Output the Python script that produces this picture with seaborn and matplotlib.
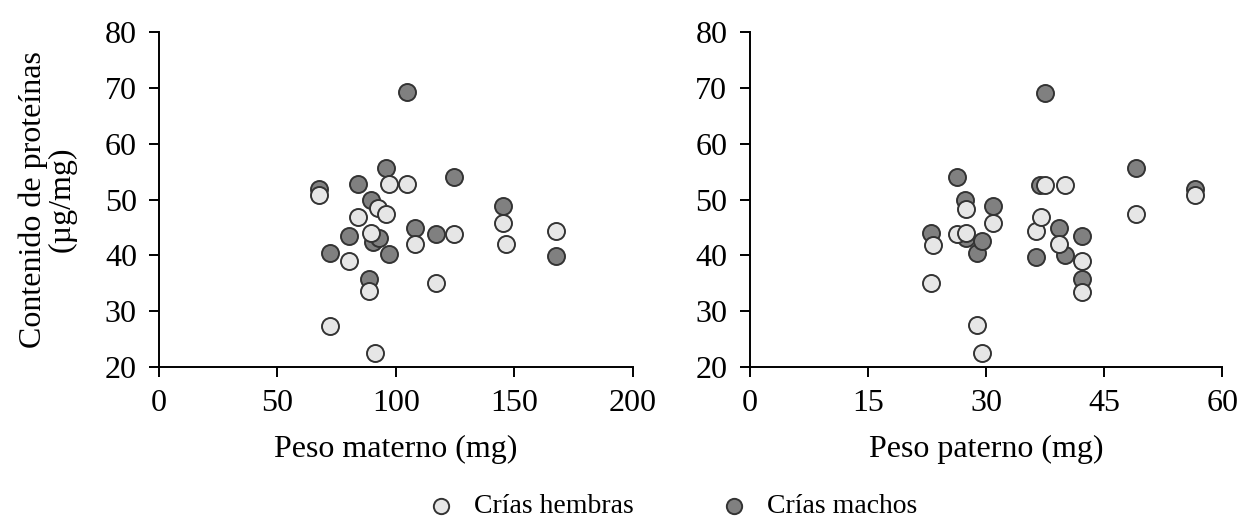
import numpy as np
import pandas as pd
import matplotlib
matplotlib.use("Agg")
import matplotlib.pyplot as plt
import seaborn as sns

# Datos
# Peso materno (mg) vs contenido de proteinas (ug/mg)
mat_hembras_x = [67.5, 72.3, 80, 84, 88.6, 89.3, 91, 92.5, 95.8, 97.2, 104.8, 108.2, 116.9, 124.5, 145.3, 146.3, 167.8]
mat_hembras_y = [50.8, 27.4, 39.0, 46.9, 33.6, 44.0, 22.6, 48.5, 47.5, 52.8, 52.8, 42.1, 35.1, 43.8, 45.8, 42.1, 44.4]
mat_machos_x = [67.5, 72.3, 80, 84, 88.6, 89.3, 90.4, 93, 95.8, 97.2, 104.5, 108.2, 116.9, 124.5, 145.3, 167.8]
mat_machos_y = [51.9, 40.45, 43.5, 52.8, 35.7, 49.9, 42.4, 43.2, 55.75, 40.2, 69.2, 45.0, 43.8, 54.1, 48.9, 39.9]

# Peso paterno (mg) vs contenido de proteinas (ug/mg)
pat_hembras_x = [23.05, 23.3, 26.3, 27.4, 27.4, 28.8, 29.5, 30.9, 36.3, 37.0, 37.5, 39.2, 40.0, 42.2, 42.2, 49.0, 56.45]
pat_hembras_y = [35.0, 41.9, 43.9, 48.4, 44.1, 27.5, 22.6, 45.9, 44.4, 46.9, 52.7, 42.0, 52.7, 39.0, 33.5, 47.4, 50.75]
pat_machos_x = [23.05, 26.3, 27.3, 27.4, 28.8, 29.5, 30.9, 36.3, 36.8, 37.5, 39.2, 40.0, 42.2, 42.2, 49.0, 56.45]
pat_machos_y = [43.95, 54.0, 49.9, 43.2, 40.4, 42.6, 48.8, 39.8, 52.7, 69.1, 44.9, 40.0, 43.5, 35.7, 55.7, 51.9]

mat_xticks = [0, 50, 100, 150, 200]
pat_xticks = [0, 15, 30, 45, 60]
yticks = [20, 30, 40, 50, 60, 70, 80]

sns.set_style("ticks")
plt.rcParams['font.family'] = ['Liberation Serif', 'DejaVu Serif']
plt.rcParams['text.color'] = 'black'
plt.rcParams['axes.labelcolor'] = 'black'

color_h = '#e6e6e6'
color_m = '#808080'
edge = '#333333'
fs = 23

fig = plt.figure(figsize=(12.43, 5.26), dpi=100)
ax1 = fig.add_axes([0.128, 0.302, 0.381, 0.637])
ax2 = fig.add_axes([0.603, 0.302, 0.3805, 0.637])

paneles = [
    (ax1, mat_machos_x, mat_machos_y, mat_hembras_x, mat_hembras_y, mat_xticks, 'Peso materno (mg)'),
    (ax2, pat_machos_x, pat_machos_y, pat_hembras_x, pat_hembras_y, pat_xticks, 'Peso paterno (mg)'),
]

for ax, mx, my, hx, hy, xt, xlabel in paneles:
    # machos primero, hembras encima
    sns.scatterplot(x=mx, y=my, ax=ax, color=color_m, edgecolor=edge,
                    linewidth=1.4, s=150, label='Crías machos', zorder=3, clip_on=False)
    sns.scatterplot(x=hx, y=hy, ax=ax, color=color_h, edgecolor=edge,
                    linewidth=1.4, s=150, label='Crías hembras', zorder=4, clip_on=False)
    ax.set_xlim(xt[0], xt[-1])
    ax.set_ylim(20, 80)
    ax.set_xticks(xt)
    ax.set_yticks(yticks)
    ax.set_xlabel(xlabel, labelpad=12, fontsize=fs)
    sns.despine(ax=ax)
    for sp in ['left', 'bottom']:
        ax.spines[sp].set_linewidth(1.4)
        ax.spines[sp].set_color('black')
    ax.tick_params(axis='both', direction='out', length=7, width=1.4, colors='black',
                   labelsize=fs, pad=9)
    ax.get_legend().remove()

ax1.set_ylabel('Contenido de proteínas\n(µg/mg)', labelpad=20, linespacing=1.0, fontsize=fs)

handles, labels = ax1.get_legend_handles_labels()
order = [labels.index('Crías hembras'), labels.index('Crías machos')]
fig.legend([handles[i] for i in order], [labels[i] for i in order],
           loc='lower center', bbox_to_anchor=(0.541, -0.035), ncol=2, frameon=False,
           columnspacing=3.1, handlelength=1.0, handletextpad=0.7, fontsize=20,
           markerscale=0.9)

fig.savefig('out.png', dpi=100)
